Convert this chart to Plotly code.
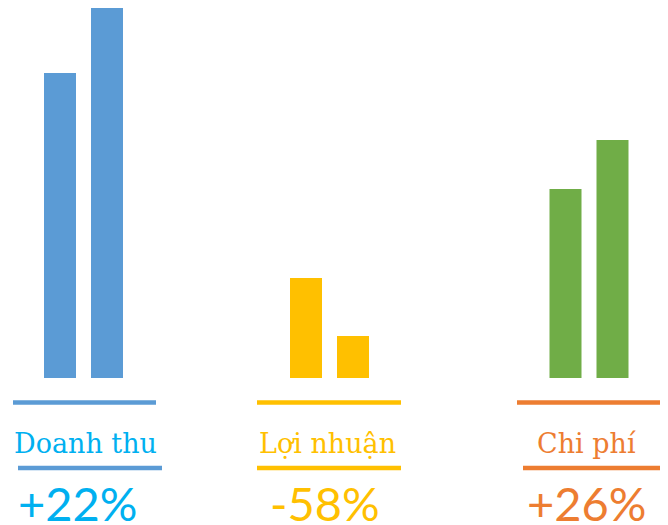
import plotly.graph_objects as go

# data
groups = ["Doanh thu", "Lợi nhuận", "Chi phí"]
prev_values = [305, 100, 189]
curr_values = [371, 42, 238]
changes = ["+22%", "-58%", "+26%"]

bar_colors = ["#5b9bd5", "#ffc000", "#70ad47"]
text_colors = ["#00b0f0", "#ffc000", "#ed7d31"]
line_colors = ["#5b9bd5", "#ffc000", "#ed7d31"]

# layout helpers (axis units = page pixels, baseline at 0)
centers = [83.5, 329.5, 589]
top_lines = [(13, 156), (257, 401), (517, 660)]
bot_lines = [(18, 162), (257, 401), (523, 666)]
bw = 32

fig = go.Figure()

fig.add_trace(go.Bar(x=centers, y=prev_values, width=bw, offset=-39.5,
                     marker=dict(color=bar_colors, line=dict(width=0))))
fig.add_trace(go.Bar(x=centers, y=curr_values, width=bw, offset=7.5,
                     marker=dict(color=bar_colors, line=dict(width=0))))

shapes = []
for i in range(3):
    shapes.append(dict(type="line", xref="x", yref="y", x0=top_lines[i][0], x1=top_lines[i][1],
                       y0=-24.5, y1=-24.5, line=dict(color=line_colors[i], width=4.5)))
    shapes.append(dict(type="line", xref="x", yref="y", x0=bot_lines[i][0], x1=bot_lines[i][1],
                       y0=-90, y1=-90, line=dict(color=line_colors[i], width=4.5)))

label_x = [85, 327.5, 586]
pct_x = [77, 325, 586]
annots = []
for i in range(3):
    annots.append(dict(x=label_x[i], y=-65, xref="x", yref="y", text=groups[i], showarrow=False,
                       font=dict(family="DejaVu Serif", size=27, color=text_colors[i])))
    annots.append(dict(x=pct_x[i], y=-125, xref="x", yref="y", text=changes[i], showarrow=False,
                       font=dict(family="Lato", size=47, color=text_colors[i])))

# page body has an 8px margin, so the figure is 660x517 and the ranges start 8px in
fig.update_layout(
    width=660, height=517, margin=dict(l=0, r=0, t=0, b=0),
    paper_bgcolor="white", plot_bgcolor="white", showlegend=False,
    shapes=shapes, annotations=annots,
    xaxis=dict(range=[8, 668], visible=False, fixedrange=True),
    yaxis=dict(range=[-147, 370], visible=False, fixedrange=True),
)

fig.write_html("out.html", config={"displayModeBar": False})
